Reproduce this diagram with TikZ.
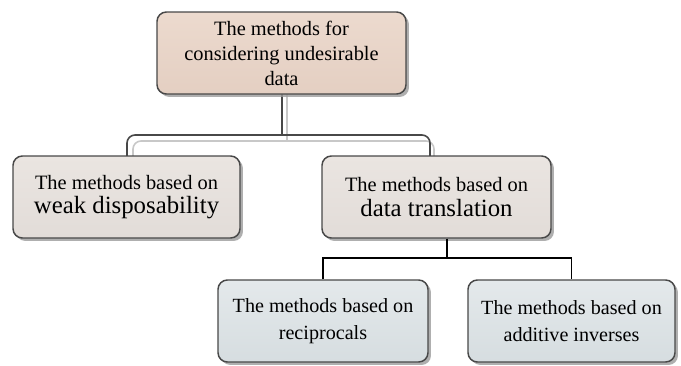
\documentclass[tikz,border=0pt]{standalone}
\usepackage{fontspec}
\setmainfont{Liberation Serif}
\usetikzlibrary{shadows,calc}

\definecolor{edge}{RGB}{72,72,72}
\definecolor{pipelight}{RGB}{200,200,200}
\definecolor{rootA}{RGB}{236,218,206}
\definecolor{rootB}{RGB}{228,207,194}
\definecolor{midA}{RGB}{234,229,225}
\definecolor{midB}{RGB}{226,220,216}
\definecolor{leafA}{RGB}{228,233,235}
\definecolor{leafB}{RGB}{214,221,224}
\definecolor{shade}{RGB}{155,155,155}

\tikzset{
  rim/.style={draw=white, draw opacity=0.45, line width=1.6pt, rounded corners=5pt},
  card/.style={draw=edge, line width=1.1pt, rounded corners=7pt,
    minimum height=61.5pt, align=center, inner sep=0pt,
    drop shadow={shadow xshift=2.2pt, shadow yshift=-2.2pt, fill=shade, opacity=0.8},
    append after command={\pgfextra{\draw[rim]
      ([shift={(2.6pt,-2.6pt)}]\tikzlastnode.north west) rectangle
      ([shift={(-2.6pt,2.6pt)}]\tikzlastnode.south east);}}},
  rootcard/.style={card, top color=rootA, bottom color=rootB,
    font=\fontsize{15.3}{18.75}\selectfont},
  midcard/.style={card, top color=midA, bottom color=midB,
    font=\fontsize{15.3}{19.5}\selectfont},
  leafcard/.style={card, top color=leafA, bottom color=leafB,
    font=\fontsize{15.1}{20.25}\selectfont},
  pipedark/.style={draw=edge, line width=1.2pt, rounded corners=6pt},
  pipepale/.style={draw=pipelight, line width=1.2pt, rounded corners=6pt},
  link/.style={draw=black, line width=1.1pt}
}

\begin{document}
\begin{tikzpicture}[x=0.75pt, y=-0.75pt]
  \useasboundingbox (0,0) rectangle (681,365);

  % node positions (the boxes themselves are drawn after the connectors)
  \path
    (281.5,53)  coordinate (pRoot)
    (126.5,197) coordinate (pWeak)
    (436.5,197) coordinate (pTrans)
    (323,321)   coordinate (pRecip)
    (571.5,321) coordinate (pAdd);

  % connector hubs
  \coordinate (hubTop)   at (282,135);
  \coordinate (hubTopP)  at (287,141);
  \coordinate (dropR)    at (430,160);
  \coordinate (dropRP)   at (434,162);
  \coordinate (dropL)    at (127,160);
  \coordinate (dropLP)   at (133,162);
  \coordinate (rootOut)  at (282,90);
  \coordinate (rootOutP) at (287,90);

  % pale twin of the pipe
  \draw[pipepale] (rootOutP) -- (hubTopP);
  \draw[pipepale] (dropLP) -- (hubTopP -| dropLP) -- (hubTopP -| dropRP) -- (dropRP);

  % dark pipe
  \draw[pipedark] (dropL) -- (hubTop -| dropL) -- (hubTop -| dropR) -- (dropR);
  \draw[pipedark] (rootOut) -- (hubTop);

  % boxes
  \node[rootcard, minimum width=186.75pt] (root) at (pRoot)
    {The methods for\\considering undesirable\\data};
  \node[midcard, minimum width=170.25pt] (weak) at (pWeak)
    {The methods based on\\[-1pt]{\fontsize{18.6}{19.5}\selectfont weak disposability}};
  \node[midcard, minimum width=171.75pt] (trans) at (pTrans)
    {The methods based on\\[-1pt]{\fontsize{18.6}{19.5}\selectfont data translation}};
  \node[leafcard, minimum width=157.5pt] (recip) at (pRecip)
    {The methods based on\\reciprocals};
  \node[leafcard, minimum width=155.25pt] (addinv) at (pAdd)
    {The methods based on\\additive inverses};

  % tree from the translation box to its two children
  \coordinate (lvl) at (0,258);
  \coordinate (transOut) at ([xshift=7.9pt]trans.south);
  \coordinate (split) at (transOut |- lvl);
  \draw[link] (transOut) -- (split);
  \draw[link] (recip.north) |- (split) -| (addinv.north);
\end{tikzpicture}
\end{document}
